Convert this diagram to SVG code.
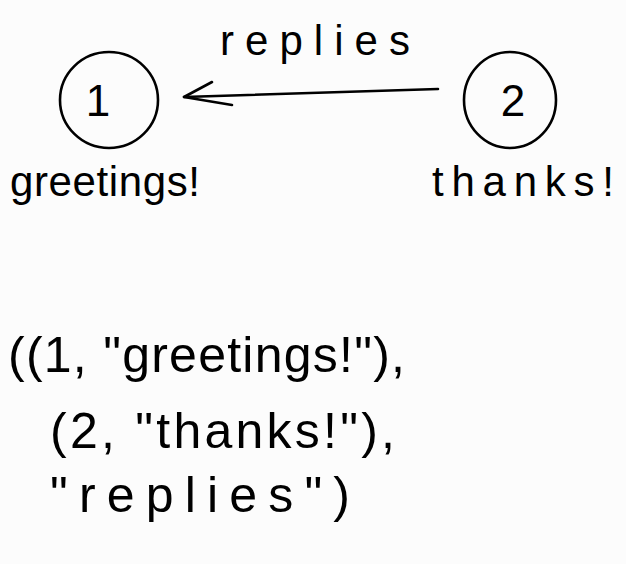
<svg xmlns="http://www.w3.org/2000/svg" width="626" height="564" viewBox="0 0 626 564">
<style>
.bg{fill:#fcfcfc}
.ink{fill:none;stroke:#000;stroke-width:2.6;stroke-linecap:round;stroke-linejoin:round}
text{font-family:"Liberation Sans","DejaVu Sans",sans-serif;fill:#000}
.lbl{font-size:42px}
.num{font-size:44px}
.code{font-size:50px}
</style>
<rect class="bg" x="0" y="0" width="626" height="564"/>
<g id="node1">
<ellipse class="ink" cx="109" cy="100" rx="49" ry="48"/>
<text class="num" x="98" y="116" text-anchor="middle">1</text>
<text class="lbl" x="10" y="196" textLength="190" lengthAdjust="spacing">greetings!</text>
</g>
<g id="node2">
<ellipse class="ink" cx="510" cy="100" rx="46" ry="48"/>
<text class="num" x="513" y="116" text-anchor="middle">2</text>
<text class="lbl" x="432" y="196" textLength="182" lengthAdjust="spacing">thanks!</text>
</g>
<g id="connectors">
<path class="ink" d="M438 89 L184 97"/>
<path class="ink" d="M212 82 L184 97 L232 105"/>
<text class="lbl" x="220" y="55" textLength="190" lengthAdjust="spacing">replies</text>
</g>
<g id="code">
<text class="code" x="8" y="372" textLength="397" lengthAdjust="spacing">((1, "greetings!"),</text>
<text class="code" x="50" y="448" textLength="345" lengthAdjust="spacing">(2, "thanks!"),</text>
<text class="code" x="50" y="512" textLength="300" lengthAdjust="spacing">"replies")</text>
</g>
</svg>
